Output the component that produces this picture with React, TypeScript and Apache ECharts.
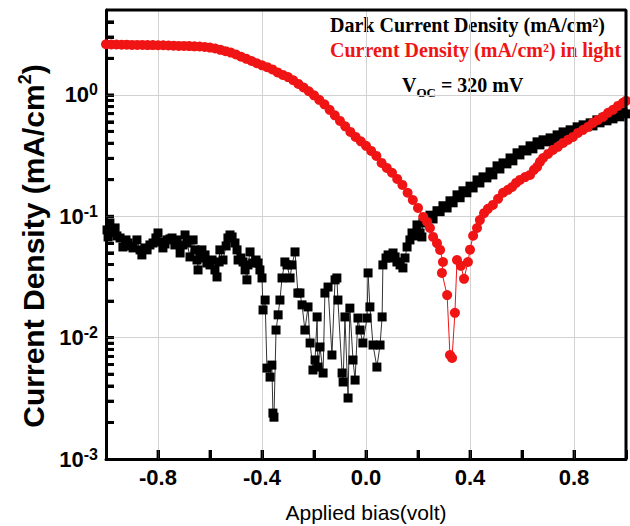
import React, { useEffect, useRef } from 'react';
import * as echarts from 'echarts';

// ---------- data ----------
const xTickLabels = ['-0.8', '-0.4', '0.0', '0.4', '0.8'];
const xGridValues = [-0.8, -0.4, 0, 0.4, 0.8];
const xTickValues = [-0.8, -0.6, -0.4, -0.2, 0, 0.2, 0.4, 0.6, 0.8];
const yDecades = [0.001, 0.01, 0.1, 1];
const yGridValues = [0.01, 0.1, 1];
const yMinorTicks = [
  0.002, 0.003, 0.004, 0.005, 0.006, 0.007, 0.008, 0.009,
  0.02, 0.03, 0.04, 0.05, 0.06, 0.07, 0.08, 0.09,
  0.2, 0.3, 0.4, 0.5, 0.6, 0.7, 0.8, 0.9,
  2, 3, 4,
];
const xRange = [-1, 1];
const yRange = [0.001, 5];

// Dark current density (mA/cm²) vs applied bias (V)
const darkBias = [
  -0.996, -0.992, -0.985, -0.977, -0.965, -0.958, -0.946, -0.935, -0.923, -0.915,
  -0.904, -0.896, -0.881, -0.869, -0.862, -0.85, -0.842, -0.831, -0.819, -0.808,
  -0.8, -0.788, -0.781, -0.773, -0.765, -0.754, -0.746, -0.735, -0.727, -0.715,
  -0.704, -0.696, -0.688, -0.677, -0.665, -0.658, -0.65, -0.646, -0.638, -0.631,
  -0.619, -0.612, -0.6, -0.592, -0.581, -0.573, -0.565, -0.562, -0.55, -0.538,
  -0.531, -0.523, -0.515, -0.504, -0.496, -0.492, -0.481, -0.473, -0.465, -0.458,
  -0.454, -0.446, -0.435, -0.423, -0.415, -0.408, -0.4, -0.396, -0.388, -0.381,
  -0.369, -0.362, -0.358, -0.354, -0.346, -0.338, -0.331, -0.323, -0.312, -0.304,
  -0.292, -0.285, -0.273, -0.262, -0.254, -0.246, -0.235, -0.223, -0.215, -0.204,
  -0.196, -0.188, -0.185, -0.177, -0.165, -0.158, -0.146, -0.131, -0.119, -0.112,
  -0.108, -0.092, -0.088, -0.081, -0.069, -0.062, -0.05, -0.042, -0.031, -0.023,
  -0.012, 0.004, 0.008, 0.015, 0.027, 0.042, 0.054, 0.062, 0.065, 0.077,
  0.085, 0.096, 0.104, 0.112, 0.119, 0.131, 0.142, 0.15, 0.158, 0.169,
  0.177, 0.188, 0.196, 0.208, 0.215, 0.219,
  0.235, 0.246, 0.258, 0.273, 0.285, 0.296, 0.312, 0.323, 0.335, 0.35,
  0.362, 0.373, 0.388, 0.4, 0.412, 0.427, 0.438, 0.45, 0.465, 0.477,
  0.488, 0.504, 0.515, 0.527, 0.542, 0.554, 0.565, 0.581, 0.592, 0.604,
  0.619, 0.631, 0.642, 0.658, 0.669, 0.681, 0.696, 0.708, 0.719, 0.735,
  0.746, 0.758, 0.773, 0.785, 0.796, 0.812, 0.823, 0.835, 0.85, 0.862,
  0.873, 0.888, 0.9, 0.912, 0.927, 0.938, 0.95, 0.965, 0.977, 0.988, 1.0,
];
const darkCurrent = [
  0.0771, 0.0675, 0.0881, 0.0742, 0.0801, 0.0688, 0.0662, 0.0558, 0.0638, 0.0602,
  0.0569, 0.0548, 0.0638, 0.0528, 0.048, 0.0548, 0.0528, 0.058, 0.0602, 0.0662,
  0.0728, 0.0614, 0.0548, 0.0591, 0.0638, 0.065, 0.0662, 0.058, 0.0638, 0.0498,
  0.058, 0.0701, 0.0602, 0.0462, 0.0638, 0.0528, 0.0436, 0.0361, 0.0453, 0.0528,
  0.048, 0.0412, 0.0397, 0.0436, 0.0361, 0.0316, 0.042, 0.0528, 0.0436, 0.0569,
  0.0662, 0.0701, 0.0675, 0.0602, 0.0528, 0.0436, 0.0453, 0.042, 0.0361, 0.0299,
  0.0397, 0.0508, 0.0412, 0.0436, 0.0412, 0.0361, 0.031, 0.0169, 0.0204, 0.00561,
  0.00473, 0.00594, 0.00239, 0.00221, 0.01155, 0.0154, 0.0204, 0.031, 0.042, 0.0397,
  0.031, 0.0397, 0.0508, 0.0233, 0.0233, 0.0186, 0.01155, 0.0179, 0.00903, 0.00541,
  0.00654, 0.0148, 0.00572, 0.00837, 0.00511, 0.0233, 0.0261, 0.00719, 0.0299, 0.031,
  0.0204, 0.00511, 0.00431, 0.0148, 0.00318, 0.0175, 0.00654, 0.00447, 0.0145, 0.01155,
  0.00903, 0.0145, 0.0341, 0.0179, 0.00869, 0.00572, 0.00869, 0.0148, 0.0397, 0.0453,
  0.048, 0.0453, 0.0498, 0.0462, 0.042, 0.0397, 0.0375, 0.0453, 0.0558, 0.0638,
  0.0728, 0.0688, 0.0848, 0.0728, 0.0675, 0.0881,
  0.0968, 0.102, 0.095, 0.111, 0.109, 0.122, 0.117, 0.134, 0.129, 0.15,
  0.142, 0.162, 0.156, 0.177, 0.171, 0.199, 0.188, 0.211, 0.207, 0.232,
  0.219, 0.26, 0.245, 0.275, 0.27, 0.302, 0.286, 0.333, 0.32, 0.352,
  0.345, 0.38, 0.359, 0.41, 0.387, 0.426, 0.41, 0.442, 0.418, 0.468,
  0.45, 0.495, 0.468, 0.515, 0.495, 0.545, 0.515, 0.566, 0.545, 0.588,
  0.555, 0.622, 0.588, 0.646, 0.611, 0.671, 0.634, 0.697, 0.659, 0.724, 0.697,
];

// Current density in light (mA/cm²) vs applied bias (V)
const lightBias = [
  -1.0, -0.98, -0.96, -0.94, -0.92, -0.9, -0.88, -0.86, -0.84, -0.82,
  -0.8, -0.78, -0.76, -0.74, -0.72, -0.7, -0.68, -0.66, -0.64, -0.62,
  -0.6, -0.58, -0.56, -0.54, -0.52, -0.5, -0.48, -0.46, -0.44, -0.42,
  -0.4, -0.38, -0.36, -0.34, -0.32, -0.3, -0.28, -0.26, -0.24, -0.22,
  -0.2, -0.18, -0.16, -0.14, -0.12, -0.1, -0.08, -0.06, -0.04, -0.02,
  0.0, 0.02, 0.04, 0.06, 0.08, 0.1, 0.12, 0.14, 0.16, 0.18,
  0.2, 0.22,
  0.235, 0.246, 0.258, 0.273, 0.285, 0.296, 0.292, 0.312, 0.323, 0.331,
  0.342, 0.35, 0.365, 0.377, 0.392, 0.4, 0.412, 0.427, 0.438, 0.454,
  0.469, 0.488, 0.508, 0.527, 0.546, 0.562, 0.577, 0.592, 0.612, 0.631,
  0.646, 0.658, 0.669, 0.681, 0.7, 0.719, 0.738, 0.758, 0.777, 0.796,
  0.815, 0.835, 0.854, 0.873, 0.892, 0.912, 0.931, 0.95, 0.969, 0.988, 1.0,
];
const lightCurrent = [
  2.61, 2.6, 2.6, 2.59, 2.59, 2.58, 2.58, 2.58, 2.57, 2.57,
  2.56, 2.56, 2.55, 2.54, 2.53, 2.53, 2.52, 2.51, 2.5, 2.48,
  2.45, 2.41, 2.35, 2.29, 2.23, 2.15, 2.06, 1.98, 1.9, 1.82,
  1.75, 1.69, 1.62, 1.53, 1.46, 1.4, 1.32, 1.23, 1.15, 1.07,
  0.99, 0.91, 0.835, 0.752, 0.678, 0.61, 0.55, 0.495, 0.45, 0.414,
  0.38, 0.345, 0.314, 0.275, 0.25, 0.228, 0.203, 0.181, 0.156, 0.136,
  0.117, 0.0987,
  0.0898, 0.08, 0.0675, 0.06, 0.0528, 0.042, 0.0341, 0.0224, 0.00719, 0.00679,
  0.016, 0.0436, 0.039, 0.0305, 0.042, 0.053, 0.069, 0.08, 0.093, 0.106,
  0.115, 0.124, 0.139, 0.156, 0.165, 0.174, 0.188, 0.199, 0.21, 0.219,
  0.241, 0.255, 0.28, 0.302, 0.326, 0.352, 0.373, 0.402, 0.426, 0.45,
  0.486, 0.515, 0.545, 0.588, 0.622, 0.659, 0.711, 0.752, 0.81, 0.859, 0.892,
];

const SANS = '"Liberation Sans", Arial, Helvetica, sans-serif';
const SERIF = '"Liberation Serif", "Times New Roman", Times, serif';

export default function App() {
  const ref = useRef<HTMLDivElement>(null);

  useEffect(() => {
    if (!ref.current) return;
    const chart = echarts.init(ref.current, null, { renderer: 'svg' });

    const darkData = darkBias.map((x, i) => [x, darkCurrent[i]]);
    const lightData = lightBias.map((x, i) => [x, lightCurrent[i]]);

    const xLabel = (v: number) => {
      const i = xGridValues.findIndex((g) => Math.abs(g - v) < 1e-6);
      return i >= 0 ? xTickLabels[i] : '';
    };
    const yLabel = (v: number) => {
      const e = Math.round(Math.log10(v));
      return `{b|10}{s|${e}}`;
    };

    // tick marks and the top/right frame, placed through the axes' own scales
    const xTickMarks = xTickValues.map((v) => [v, yRange[0]]);
    const yTickMarks = [...yDecades.slice(1), ...yMinorTicks].map((v) => [xRange[0], v]);
    const frameTopRight = [
      [xRange[0], yRange[1]],
      [xRange[1], yRange[1]],
      [xRange[1], yRange[0]],
    ];

    const option: any = {
      animation: false,
      backgroundColor: '#ffffff',
      grid: { left: 106, right: 4, top: 10, bottom: 67, show: false },
      xAxis: {
        type: 'value',
        min: xRange[0],
        max: xRange[1],
        interval: 0.2,
        axisLine: { show: true, onZero: false, lineStyle: { color: '#000', width: 3 } },
        axisTick: { show: true, inside: true, length: 9, lineStyle: { color: '#000', width: 3 } },
        axisLabel: {
          formatter: xLabel,
          fontFamily: SANS,
          fontWeight: 'bold',
          fontSize: 22,
          color: '#000',
          margin: 7,
        },
        splitLine: { show: false },
      },
      yAxis: {
        type: 'log',
        logBase: 10,
        min: yRange[0],
        max: yRange[1],
        axisLine: { show: true, onZero: false, lineStyle: { color: '#000', width: 3 } },
        axisTick: {
          show: true,
          inside: true,
          length: 8,
          customValues: [...yDecades, ...yMinorTicks],
          lineStyle: { color: '#000', width: 3 },
        },
        axisLabel: {
          customValues: yDecades,
          formatter: yLabel,
          margin: 8,
          rich: {
            b: { fontFamily: SANS, fontWeight: 'bold', fontSize: 22, lineHeight: 26, color: '#000' },
            s: {
              fontFamily: SANS,
              fontWeight: 'bold',
              fontSize: 16,
              lineHeight: 10,
              verticalAlign: 'top',
              color: '#000',
            },
          },
        },
        splitLine: { show: false },
      },
      series: [
        {
          name: 'Dark Current Density (mA/cm²)',
          type: 'line',
          data: darkData,
          symbol: 'rect',
          symbolSize: 9,
          showAllSymbol: true,
          itemStyle: { color: '#000' },
          lineStyle: { color: '#333', width: 1 },
          markLine: {
            silent: true,
            z: 1,
            symbol: ['none', 'none'],
            label: { show: false },
            lineStyle: { color: '#d2d2d2', width: 1, type: 'solid' },
            data: [
              ...xGridValues.map((v) => ({ xAxis: v })),
              ...yGridValues.map((v) => ({ yAxis: v })),
            ],
          },
        },
        {
          name: 'Current Density (mA/cm²) in light',
          type: 'line',
          data: lightData,
          symbol: 'circle',
          symbolSize: 10,
          showAllSymbol: true,
          itemStyle: { color: '#f01414' },
          lineStyle: { color: '#f01414', width: 1 },
        },
        {
          name: 'frame',
          type: 'line',
          data: frameTopRight,
          symbol: 'none',
          silent: true,
          clip: false,
          z: 6,
          lineStyle: { color: '#000', width: 3 },
        },
        {
          name: 'x ticks',
          type: 'scatter',
          data: xTickMarks,
          symbol: 'rect',
          symbolSize: [3, 9],
          symbolOffset: [0, -4.5],
          silent: true,
          clip: false,
          z: 6,
          itemStyle: { color: '#000' },
        },
        {
          name: 'y ticks',
          type: 'scatter',
          data: yTickMarks,
          symbol: 'rect',
          symbolSize: [8, 3],
          symbolOffset: [4, 0],
          silent: true,
          clip: false,
          z: 6,
          itemStyle: { color: '#000' },
        },
      ],
      graphic: [
        {
          type: 'text',
          x: 366,
          y: 512,
          style: {
            text: 'Applied bias(volt)',
            fill: '#000',
            font: `21px ${SANS}`,
            align: 'center',
            verticalAlign: 'middle',
          },
        },
        {
          type: 'text',
          x: 33,
          y: 246,
          rotation: Math.PI / 2,
          style: {
            text: '{a|Current Density (mA/cm}{s|2}{a|)}',
            align: 'center',
            verticalAlign: 'middle',
            rich: {
              a: { fontFamily: SANS, fontWeight: 'bold', fontSize: 30, lineHeight: 34, fill: '#000' },
              s: {
                fontFamily: SANS,
                fontWeight: 'bold',
                fontSize: 18,
                lineHeight: 12,
                verticalAlign: 'top',
                fill: '#000',
              },
            },
          },
        },
        {
          type: 'text',
          x: 330,
          y: 25,
          style: {
            text: 'Dark Current Density (mA/cm²)',
            fill: '#000',
            font: `bold 20px ${SERIF}`,
            align: 'left',
            verticalAlign: 'middle',
          },
        },
        {
          type: 'text',
          x: 330,
          y: 50,
          style: {
            text: 'Current Density (mA/cm²) in light',
            fill: '#f01414',
            font: `bold 20px ${SERIF}`,
            align: 'left',
            verticalAlign: 'middle',
          },
        },
        {
          type: 'text',
          x: 402,
          y: 75,
          style: {
            text: '{v|V}{o|OC}{t| = 320 mV}',
            align: 'left',
            verticalAlign: 'top',
            rich: {
              v: { fontFamily: SERIF, fontWeight: 'bold', fontSize: 20, lineHeight: 22, verticalAlign: 'top', fill: '#000' },
              o: {
                fontFamily: SERIF,
                fontWeight: 'bold',
                fontSize: 13,
                lineHeight: 15,
                verticalAlign: 'top',
                padding: [11, 0, 0, 0],
                fill: '#000',
              },
              t: { fontFamily: SERIF, fontWeight: 'bold', fontSize: 20, lineHeight: 22, verticalAlign: 'top', fill: '#000' },
            },
          },
        },
      ],
    };

    chart.setOption(option);
    return () => chart.dispose();
  }, []);

  return (
    <div
      ref={ref}
      style={{ position: 'absolute', left: 0, top: 0, width: 630, height: 526 }}
    />
  );
}
